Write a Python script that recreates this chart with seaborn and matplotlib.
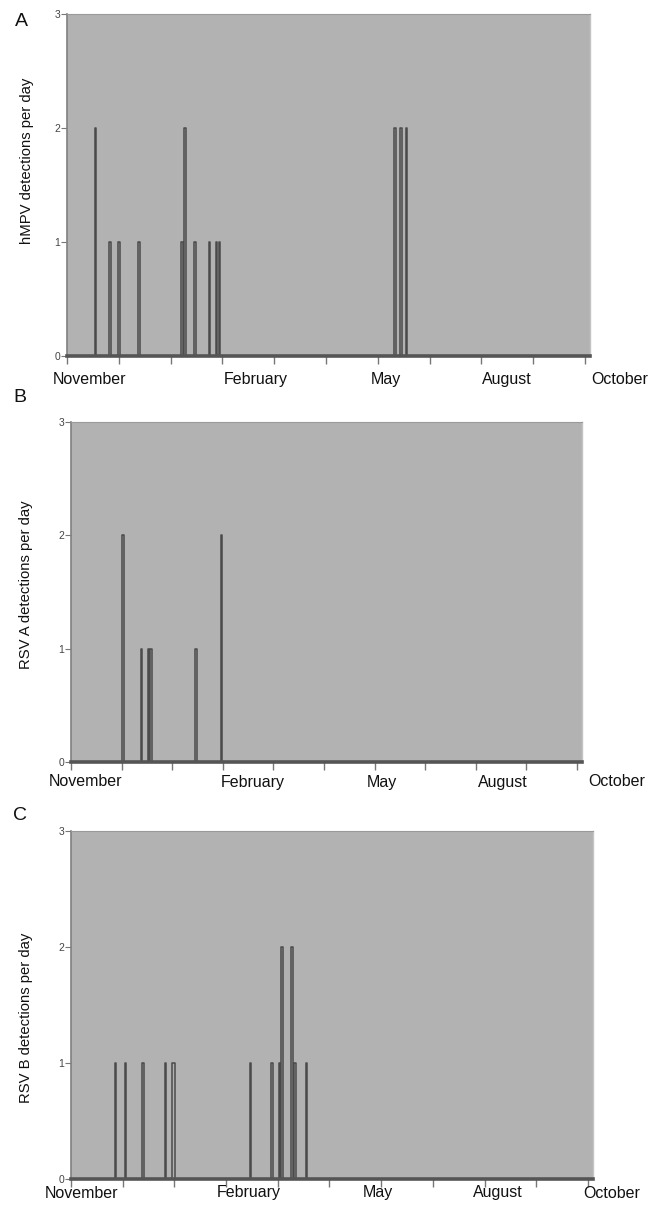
import numpy as np
import pandas as pd
import matplotlib
matplotlib.use("Agg")
import matplotlib.pyplot as plt
import seaborn as sns

# ---------------- data ----------------
n_days = 366
month_labels = ["November", "February", "May", "August", "October"]

hmpv_days = [20, 30, 36, 50, 80, 82, 89, 99, 104, 106, 228, 232, 236]
hmpv_counts = [2, 1, 1, 1, 1, 2, 1, 1, 1, 1, 2, 2, 2]

rsva_days = [37, 50, 55, 57, 89, 107]
rsva_counts = [2, 1, 1, 1, 1, 2]

rsvb_days = [31, 38, 50, 66, 71, 72, 125, 140, 145, 147, 154, 156, 164]
rsvb_counts = [1, 1, 1, 1, 1, 1, 1, 1, 1, 2, 2, 1, 1]

y_ticks = [0, 1, 2, 3]
tick_step = 36

# ---------------- style ----------------
sns.set_theme(style="white")
plt.rcParams["font.family"] = ["Liberation Sans", "DejaVu Sans"]

W, H = 660, 1208
fig = plt.figure(figsize=(W / 100, H / 100), dpi=100)

panels = [
    dict(letter="A", ylabel="hMPV detections per day", days=hmpv_days, counts=hmpv_counts,
         box=(67, 14, 590, 356), label_pos=[0.44, 3.65, 6.16, 8.49, 10.68], label_dy=23,
         ylabel_xy=(27, 161), letter_xy=(21, 22)),
    dict(letter="B", ylabel="RSV A detections per day", days=rsva_days, counts=rsva_counts,
         box=(71, 422, 582, 762), label_pos=[0.28, 3.59, 6.15, 8.54, 10.78], label_dy=20,
         ylabel_xy=(26, 585), letter_xy=(20, 397)),
    dict(letter="C", ylabel="RSV B detections per day", days=rsvb_days, counts=rsvb_counts,
         box=(71, 831, 593, 1179), label_pos=[0.20, 3.44, 5.94, 8.26, 10.46], label_dy=14,
         ylabel_xy=(26, 1018), letter_xy=(20, 815)),
]

for p in panels:
    l, t, r, b = p["box"]
    ax = fig.add_axes([l / W, 1 - b / H, (r - l) / W, (b - t) / H])
    series = np.zeros(n_days)
    for d, c in zip(p["days"], p["counts"]):
        series[d] = c
    df = pd.DataFrame({"day": np.arange(n_days), "count": series})
    sns.lineplot(data=df, x="day", y="count", ax=ax, color="#4a4a4a", lw=1.1,
                 drawstyle="steps-mid", errorbar=None)

    ax.set_facecolor("#b2b2b2")
    ax.set_xlim(0, 363.5)
    ax.set_ylim(0, 3)
    ax.set_xlabel("")
    ax.set_ylabel("")
    ax.set_xticks(np.arange(0, 361, tick_step))
    ax.set_xticklabels([])
    ax.set_yticks(y_ticks)
    ax.set_yticklabels([str(v) for v in y_ticks])
    ax.tick_params(axis="x", direction="out", length=5.5, color="#777777", width=1, bottom=True)
    ax.tick_params(axis="y", direction="out", length=4, color="#777777", width=0.8, pad=1,
                   labelsize=7.5, labelcolor="#444444", left=True)

    ax.spines["left"].set_color("#808080")
    ax.spines["left"].set_linewidth(1.2)
    ax.spines["bottom"].set_color("#555555")
    ax.spines["bottom"].set_linewidth(2.6)
    ax.spines["top"].set_color("#9a9a9a")
    ax.spines["top"].set_linewidth(0.8)
    ax.spines["right"].set_color("#c4c4c4")
    ax.spines["right"].set_linewidth(1.0)

    for lbl, pos in zip(month_labels, p["label_pos"]):
        ax.annotate(lbl, xy=(pos * tick_step, 0), xycoords=("data", "axes fraction"),
                    xytext=(0, -p["label_dy"] * 0.72), textcoords="offset points",
                    ha="center", va="center", fontsize=11.5, color="#111111",
                    annotation_clip=False)

    fig.text(p["ylabel_xy"][0] / W, 1 - p["ylabel_xy"][1] / H, p["ylabel"], rotation=90,
             ha="center", va="center", fontsize=10.7, color="#111111")
    fig.text(p["letter_xy"][0] / W, 1 - p["letter_xy"][1] / H, p["letter"],
             ha="center", va="center", fontsize=14, color="#111111")

fig.savefig("out.png", dpi=100)
